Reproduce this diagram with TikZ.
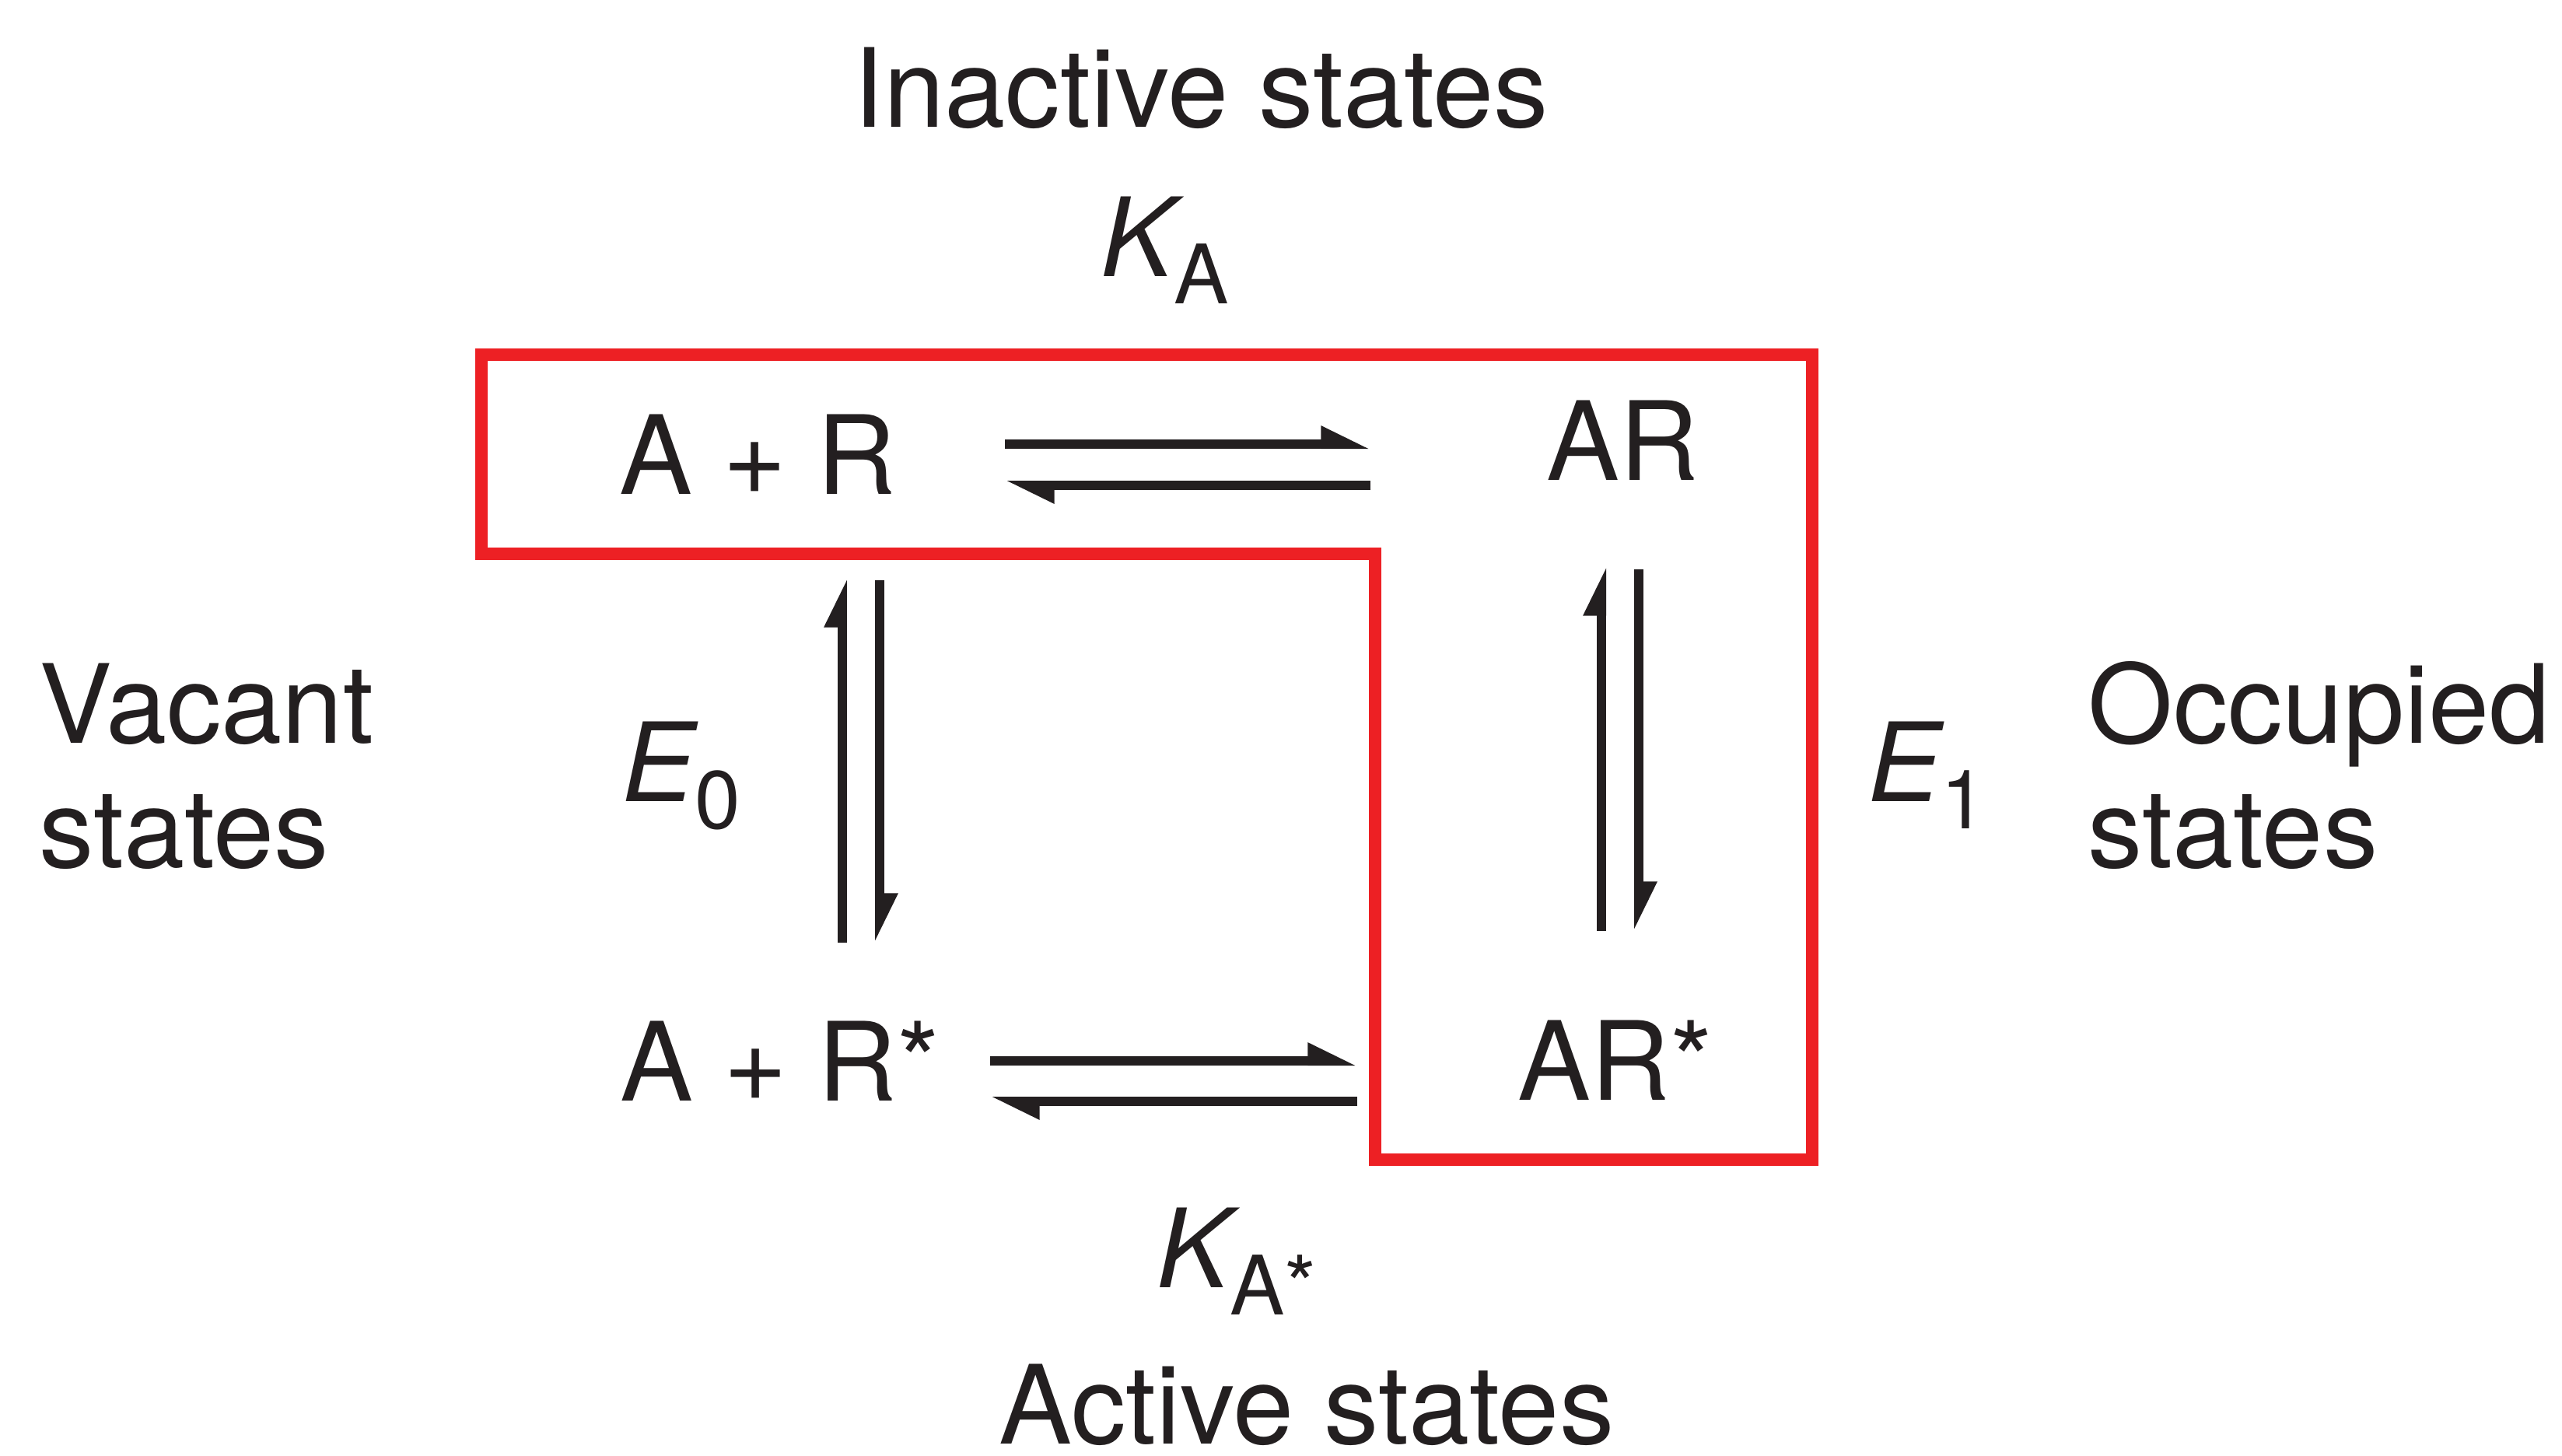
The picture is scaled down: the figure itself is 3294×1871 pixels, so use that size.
\documentclass[tikz,border=0pt]{standalone}
\usepackage{fontspec}
\setmainfont{TeX Gyre Heros}
\usetikzlibrary{arrows.meta}
\definecolor{boxred}{RGB}{237,32,36}
\definecolor{ink}{RGB}{35,31,32}
\newcommand{\subtx}[1]{\raisebox{-0.25em}{\fontsize{30}{30}\selectfont #1}}

\begin{document}
\begin{tikzpicture}[x=0.01cm,y=-0.01cm,
	every node/.style={inner sep=0pt,text=ink,font=\fontsize{40}{45.5}\selectfont},
	every text node part/.style={align=left},
	harp/.style={draw=ink,line width=3.4pt,-{Triangle[left,length=5mm,width=4.4mm]}},
	boxline/.style={draw=boxred,line width=4.5pt,line join=miter}]
	\useasboundingbox (0,0) rectangle (3294,1871);
	
	%labels round the square
	\node[anchor=base] (inact) at (1544,163) {Inactive states};
	\node[anchor=base west] (ka) at (1415,355) {{\itshape K}\subtx{A}};
	\node[anchor=base west] (vac) at (50,1115) {Vacant\\states};
	\node[anchor=base west] (occ) at (2684,1115) {Occupied\\states};
	\node[anchor=base west] (e0) at (799,1030) {{\itshape E}\subtx{0}};
	\node[anchor=base west] (e1) at (2401,1030) {{\itshape E}\subtx{1}};
	\node[anchor=base west] (kas) at (1487,1655) {{\itshape K}\subtx{A*}};
	\node[anchor=base,text depth=0pt] (act) at (1680,1856) {Active states};
	
	%states
	\node[anchor=base west] (ar0) at (796,635) {A + R};
	\node[anchor=base west] (ar) at (1988,617) {AR};
	\node[anchor=base west] (ars0) at (797,1415) {A + R*};
	\node[anchor=base west] (ars) at (1951,1414) {AR*};
	
	%occupied / inactive box
	\draw[boxline] (619,456) -- (2330,456) -- (2330,1491) -- (1768,1491) -- (1768,712) -- (619,712) -- cycle;
	
	%arrow ends
	\coordinate (ka1) at (1292,571); \coordinate (ka2) at (1762,571);
	\coordinate (ka3) at (1762,624); \coordinate (ka4) at (1292,624);
	\coordinate (kb1) at (1273,1364); \coordinate (kb2) at (1745,1364);
	\coordinate (kb3) at (1745,1416); \coordinate (kb4) at (1273,1416);
	\coordinate (e0a) at (1083,1212); \coordinate (e0b) at (1083,743);
	\coordinate (e0c) at (1131,746); \coordinate (e0d) at (1131,1212);
	\coordinate (e1a) at (2059,1197); \coordinate (e1b) at (2059,728);
	\coordinate (e1c) at (2107,732); \coordinate (e1d) at (2107,1197);
	
	%equilibria
	\draw[harp] (ka1) -- (ka2);
	\draw[harp] (ka3) -- (ka4);
	\draw[harp] (kb1) -- (kb2);
	\draw[harp] (kb3) -- (kb4);
	\draw[harp] (e0a) -- (e0b);
	\draw[harp] (e0c) -- (e0d);
	\draw[harp] (e1a) -- (e1b);
	\draw[harp] (e1c) -- (e1d);
	
\end{tikzpicture}
\end{document}
